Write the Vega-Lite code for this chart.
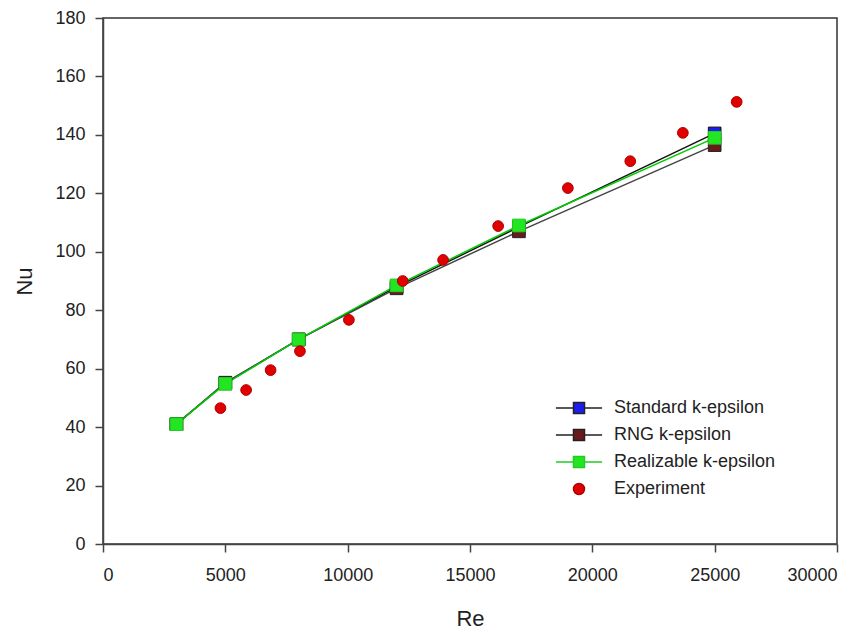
{
  "$schema": "https://vega.github.io/schema/vega-lite/v6.json",
  "width": 734,
  "height": 526,
  "autosize": "none",
  "padding": {"left": 103, "top": 18, "right": 28, "bottom": 88},
  "background": "white",
  "config": {
    "font": "Liberation Sans",
    "view": {"stroke": "#333", "strokeWidth": 1.5},
    "axis": {
      "grid": false,
      "domainColor": "#444",
      "domainWidth": 1.5,
      "tickColor": "#444",
      "tickWidth": 1.5,
      "tickSize": 8,
      "labelFont": "Liberation Sans",
      "labelFontSize": 18,
      "labelColor": "#222",
      "titleFont": "Liberation Sans",
      "titleFontSize": 22,
      "titleFontWeight": "normal",
      "titleColor": "#222"
    },
    "legend": {
      "orient": "none",
      "legendX": 467,
      "legendY": 381,
      "labelFont": "Liberation Sans",
      "labelFontSize": 18,
      "labelColor": "#222",
      "labelLimit": 300,
      "labelOffset": 26,
      "rowPadding": 9,
      "symbolSize": 121,
      "symbolStrokeWidth": 1.5
    }
  },
  "data": {
    "values": [
      {"Re": 3000, "Nu": 41, "series": "Standard k-epsilon"},
      {"Re": 5000, "Nu": 55, "series": "Standard k-epsilon"},
      {"Re": 8000, "Nu": 70, "series": "Standard k-epsilon"},
      {"Re": 12000, "Nu": 88, "series": "Standard k-epsilon"},
      {"Re": 17000, "Nu": 108.5, "series": "Standard k-epsilon"},
      {"Re": 25000, "Nu": 140.5, "series": "Standard k-epsilon"},
      {"Re": 3000, "Nu": 41, "series": "RNG k-epsilon"},
      {"Re": 5000, "Nu": 55.2, "series": "RNG k-epsilon"},
      {"Re": 8000, "Nu": 70, "series": "RNG k-epsilon"},
      {"Re": 12000, "Nu": 87.5, "series": "RNG k-epsilon"},
      {"Re": 17000, "Nu": 107, "series": "RNG k-epsilon"},
      {"Re": 25000, "Nu": 136.5, "series": "RNG k-epsilon"},
      {"Re": 3000, "Nu": 41, "series": "Realizable k-epsilon"},
      {"Re": 5000, "Nu": 54.8, "series": "Realizable k-epsilon"},
      {"Re": 8000, "Nu": 70, "series": "Realizable k-epsilon"},
      {"Re": 12000, "Nu": 88.5, "series": "Realizable k-epsilon"},
      {"Re": 17000, "Nu": 109, "series": "Realizable k-epsilon"},
      {"Re": 25000, "Nu": 139, "series": "Realizable k-epsilon"},
      {"Re": 4800, "Nu": 46.5, "series": "Experiment"},
      {"Re": 5850, "Nu": 52.7, "series": "Experiment"},
      {"Re": 6850, "Nu": 59.5, "series": "Experiment"},
      {"Re": 8050, "Nu": 66, "series": "Experiment"},
      {"Re": 10050, "Nu": 76.7, "series": "Experiment"},
      {"Re": 12250, "Nu": 90, "series": "Experiment"},
      {"Re": 13900, "Nu": 97.2, "series": "Experiment"},
      {"Re": 16150, "Nu": 108.8, "series": "Experiment"},
      {"Re": 19000, "Nu": 121.8, "series": "Experiment"},
      {"Re": 21550, "Nu": 131, "series": "Experiment"},
      {"Re": 23700, "Nu": 140.7, "series": "Experiment"},
      {"Re": 25900, "Nu": 151.3, "series": "Experiment"}
    ]
  },
  "encoding": {
    "x": {
      "field": "Re", "type": "quantitative",
      "scale": {"domain": [0, 30000], "nice": false, "zero": false},
      "axis": {"values": [0, 5000, 10000, 15000, 20000, 25000, 30000], "format": "d", "labelPadding": 14, "titlePadding": 24, "title": "Re"}
    },
    "y": {
      "field": "Nu", "type": "quantitative",
      "scale": {"domain": [0, 180], "nice": false},
      "axis": {"values": [0, 20, 40, 60, 80, 100, 120, 140, 160, 180], "labelPadding": 10, "titlePadding": 18, "title": "Nu"}
    }
  },
  "resolve": {
    "scale": {"shape": "independent", "fill": "independent", "stroke": "independent"},
    "legend": {"shape": "independent", "fill": "independent", "stroke": "independent"}
  },
  "layer": [
    {
      "transform": [{"filter": "datum.series !== 'Experiment'"}],
      "mark": {"type": "line", "strokeWidth": 1.5},
      "encoding": {
        "color": {
          "field": "series", "type": "nominal",
          "scale": {"domain": ["Standard k-epsilon", "RNG k-epsilon", "Realizable k-epsilon"], "range": ["#111111", "#444444", "#00cc00"]},
          "legend": null
        }
      }
    },
    {
      "mark": {"type": "point", "filled": true, "strokeWidth": 1, "opacity": 1},
      "encoding": {
        "shape": {
          "field": "series", "type": "nominal",
          "scale": {"domain": ["Standard k-epsilon", "RNG k-epsilon", "Realizable k-epsilon", "Experiment"], "range": ["square", "square", "square", "circle"]},
          "legend": null
        },
        "fill": {
          "field": "series", "type": "nominal",
          "scale": {"domain": ["Standard k-epsilon", "RNG k-epsilon", "Realizable k-epsilon", "Experiment"], "range": ["#1c1cf0", "#6a1a1a", "#22e622", "#e00000"]},
          "legend": null
        },
        "stroke": {
          "field": "series", "type": "nominal",
          "scale": {"domain": ["Standard k-epsilon", "RNG k-epsilon", "Realizable k-epsilon", "Experiment"], "range": ["#111111", "#222222", "#22cc22", "#b00000"]},
          "legend": null
        },
        "size": {
          "condition": {"test": "datum.series === 'Experiment'", "value": 115},
          "value": 160
        }
      }
    },
    {
      "transform": [{"filter": "datum.Re < 0"}],
      "mark": {"type": "point", "filled": true, "strokeWidth": 1.5, "opacity": 1},
      "encoding": {
        "shape": {
          "field": "series", "type": "nominal",
          "scale": {"domain": ["Standard k-epsilon", "RNG k-epsilon", "Realizable k-epsilon", "Experiment"], "range": ["M-4.2,0H-1M1,0H4.2M-1,-1H1V1H-1Z", "M-4.2,0H-1M1,0H4.2M-1,-1H1V1H-1Z", "M-4.2,0H-1M1,0H4.2M-1,-1H1V1H-1Z", "circle"]},
          "legend": {"title": null}
        },
        "fill": {
          "field": "series", "type": "nominal",
          "scale": {"domain": ["Standard k-epsilon", "RNG k-epsilon", "Realizable k-epsilon", "Experiment"], "range": ["#1c1cf0", "#6a1a1a", "#22e622", "#e00000"]},
          "legend": {"title": null}
        },
        "stroke": {
          "field": "series", "type": "nominal",
          "scale": {"domain": ["Standard k-epsilon", "RNG k-epsilon", "Realizable k-epsilon", "Experiment"], "range": ["#222222", "#222222", "#22cc22", "#b00000"]},
          "legend": {"title": null}
        }
      }
    }
  ]
}
